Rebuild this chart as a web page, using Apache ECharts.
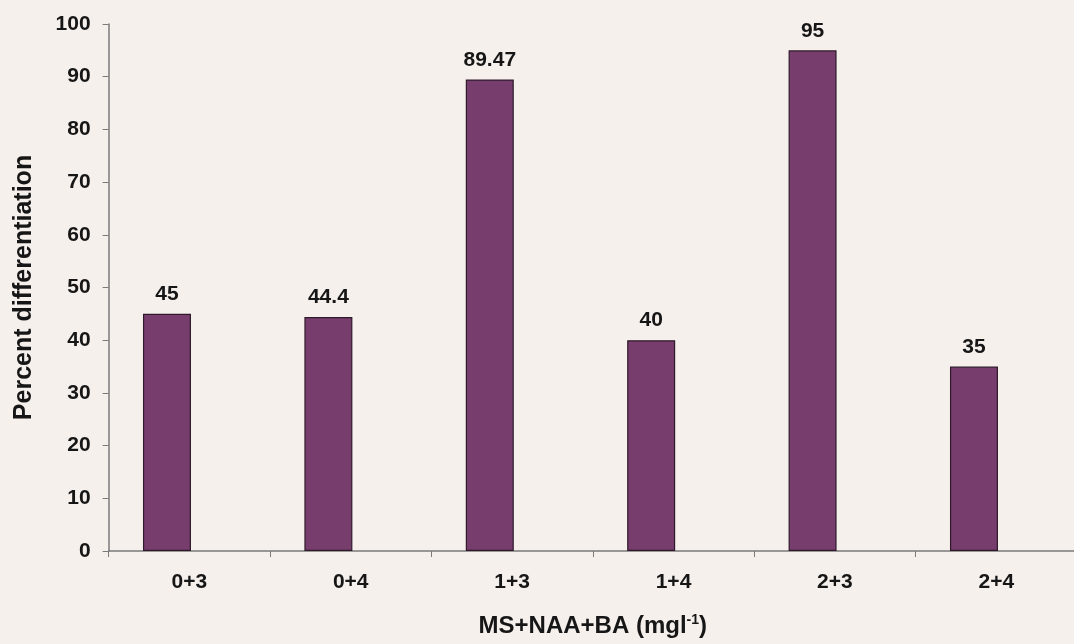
<!DOCTYPE html>
<html>
<head>
<meta charset="utf-8">
<script src="https://cdn.jsdelivr.net/npm/echarts@6/dist/echarts.min.js"></script>
<style>
  html, body { margin: 0; padding: 0; background: #f6f0ed; }
  #chart { width: 1074px; height: 644px; }
</style>
</head>
<body>
<div id="chart"></div>
<script>
// Treatment combinations (NAA + BA, mg/l) and percent differentiation
const categories = ['0+3', '0+4', '1+3', '1+4', '2+3', '2+4'];
const differentiation = [45, 44.4, 89.47, 40, 95, 35];
const yTicks = { min: 0, max: 100, interval: 10 };

const FONT = '"Liberation Sans", Arial, sans-serif';
const INK = '#161616';
const chart = echarts.init(document.getElementById('chart'), null, { renderer: 'canvas' });

chart.setOption({
  backgroundColor: '#f6f0ed',
  animation: false,
  grid: {
    left: 108.6, top: 24, width: 968.4, height: 527,
    containLabel: false, outerBoundsMode: 'none'
  },
  xAxis: {
    type: 'category',
    data: categories,
    name: 'MS+NAA+BA (mgl{sup|-1})',
    nameLocation: 'middle',
    nameGap: 62,
    nameTextStyle: {
      fontFamily: FONT, fontWeight: 'bold', fontSize: 24, color: INK,
      rich: { sup: { fontFamily: FONT, fontWeight: 'bold', fontSize: 14, color: INK, padding: [0, 0, 13, 0] } }
    },
    axisLine: { lineStyle: { color: '#7a7a7a', width: 1.5 } },
    axisTick: { show: true, length: 6, lineStyle: { color: '#7a7a7a' } },
    axisLabel: { fontFamily: FONT, fontWeight: 'bold', fontSize: 21, color: INK, margin: 21 }
  },
  yAxis: {
    type: 'value',
    min: yTicks.min, max: yTicks.max, interval: yTicks.interval,
    name: 'Percent differentiation',
    nameLocation: 'middle',
    nameGap: 72,
    nameTextStyle: { fontFamily: FONT, fontWeight: 'bold', fontSize: 25, color: INK },
    splitLine: { show: false },
    axisLine: { show: true, lineStyle: { color: '#7a7a7a', width: 1.5 } },
    axisTick: { show: true, length: 6, lineStyle: { color: '#7a7a7a' } },
    axisLabel: { fontFamily: FONT, fontWeight: 'bold', fontSize: 21, color: INK, margin: 18 }
  },
  series: [
    {
      type: 'bar',
      data: differentiation,
      barWidth: 48,
      barGap: '-7%',
      itemStyle: { color: '#763d6d', borderColor: '#2e1a2b', borderWidth: 1.2 },
      label: {
        show: true, position: 'top', distance: 9,
        fontFamily: FONT, fontWeight: 'bold', fontSize: 21, color: INK
      }
    },
    {
      // empty companion series: keeps each bar left of its category centre
      type: 'bar',
      data: categories.map(() => null),
      barWidth: 48,
      silent: true
    }
  ]
});
</script>
</body>
</html>
